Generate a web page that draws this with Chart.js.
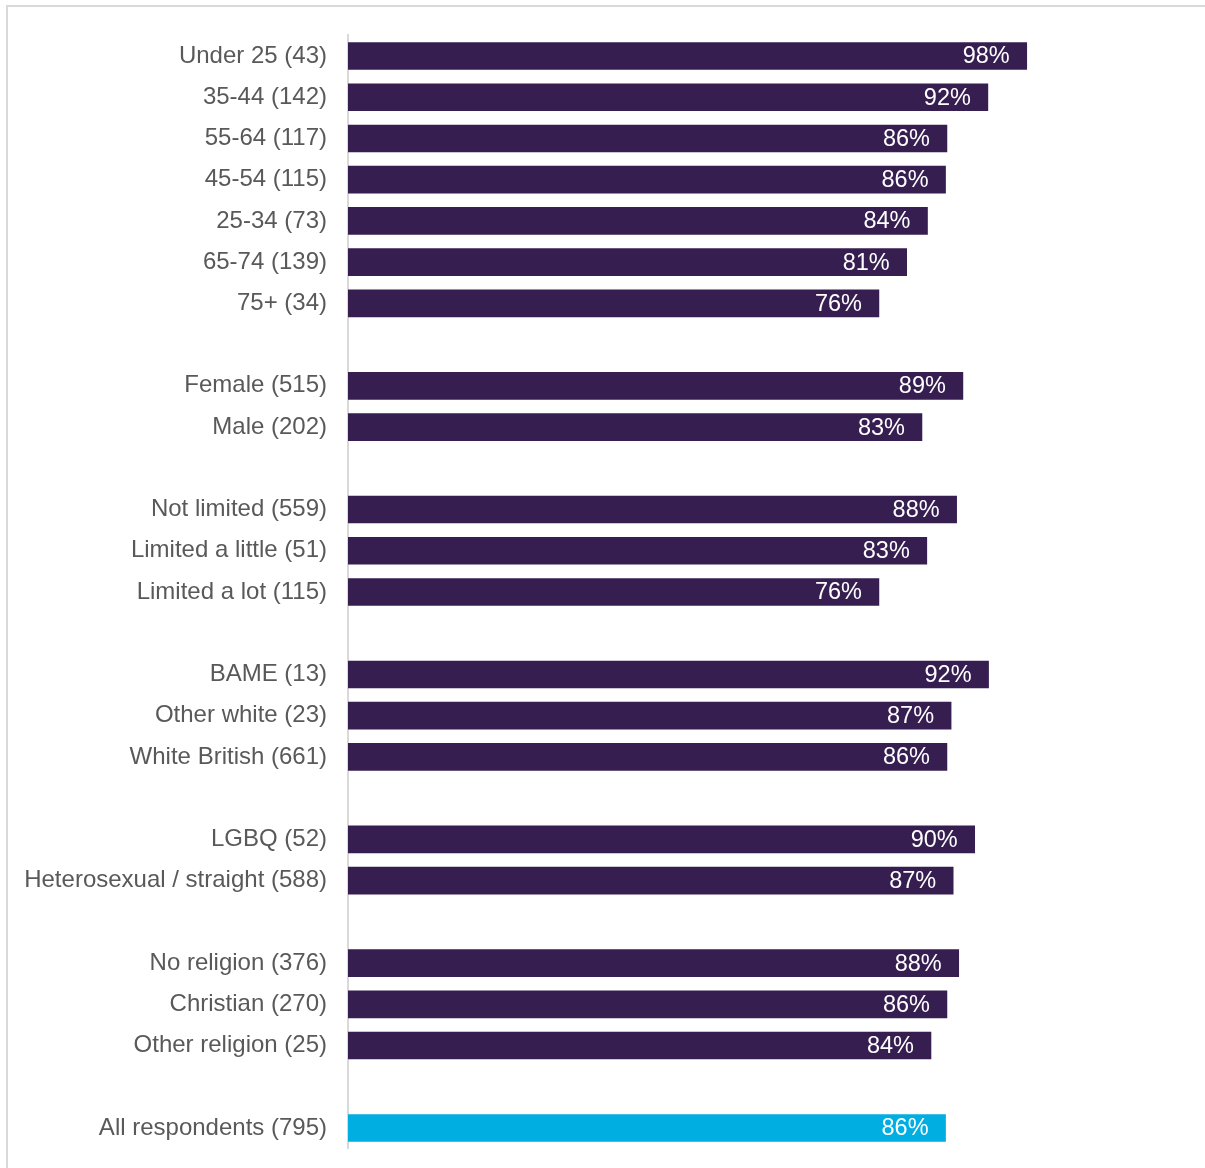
<!DOCTYPE html>
<html>
<head>
<meta charset="utf-8">
<script src="https://cdn.jsdelivr.net/npm/chart.js@4"></script>
<style>
    html, body { margin: 0; padding: 0; background: #fff; overflow: hidden; }
    #wrap { position: relative; width: 1205px; height: 1168px; }
    #frame { position: absolute; left: 6px; top: 5px; width: 1400px; height: 1400px; border-top: 2px solid #d9d9d9; border-left: 2px solid #d9d9d9; }
    #myChart { position: absolute; left: 0; top: 0; }
</style>
</head>
<body>
<div id="wrap">
    <div id="frame"></div>
    <canvas id="myChart" width="1205" height="1168"></canvas>
</div>
<script>
// categories, empty strings are the gaps between groups
var categories = [
    "Under 25 (43)", "35-44 (142)", "55-64 (117)", "45-54 (115)", "25-34 (73)", "65-74 (139)", "75+ (34)",
    "",
    "Female (515)", "Male (202)",
    "",
    "Not limited (559)", "Limited a little (51)", "Limited a lot (115)",
    "",
    "BAME (13)", "Other white (23)", "White British (661)",
    "",
    "LGBQ (52)", "Heterosexual / straight (588)",
    "",
    "No religion (376)", "Christian (270)", "Other religion (25)",
    "",
    "All respondents (795)"
];

// percentages
var values = [
    97.8, 92.2, 86.3, 86.1, 83.5, 80.5, 76.5,
    null,
    88.6, 82.7,
    null,
    87.7, 83.4, 76.5,
    null,
    92.3, 86.9, 86.3,
    null,
    90.3, 87.2,
    null,
    88.0, 86.3, 84.0,
    null,
    86.1
];

// printed labels
var valueLabels = [
    "98%", "92%", "86%", "86%", "84%", "81%", "76%",
    "",
    "89%", "83%",
    "",
    "88%", "83%", "76%",
    "",
    "92%", "87%", "86%",
    "",
    "90%", "87%",
    "",
    "88%", "86%", "84%",
    "",
    "86%"
];

var purple = '#371e51';
var blue = '#00aee1';
var barColors = categories.map(c => c.indexOf("All respondents") === 0 ? blue : purple);

var FONT = "'Liberation Sans', Arial, sans-serif";

// draw the % text inside the end of each bar
var valueLabelPlugin = {
    id: 'valueLabels',
    afterDatasetsDraw: function (chart) {
        var ctx = chart.ctx;
        var meta = chart.getDatasetMeta(0);
        ctx.save();
        ctx.font = "23.5px " + FONT;
        ctx.fillStyle = '#ffffff';
        ctx.textAlign = 'right';
        ctx.textBaseline = 'middle';
        meta.data.forEach((bar, i) => {
            if (values[i] == null) return;
            ctx.fillText(valueLabels[i], bar.x - 17, bar.y + 1);
        });
        ctx.restore();
    }
};

var ctx = document.getElementById('myChart');
var chart = new Chart(ctx, {
    type: 'bar',
    data: {
        labels: categories,
        datasets: [{
            data: values,
            backgroundColor: barColors,
            borderWidth: 0,
            barThickness: 27
        }]
    },
    options: {
        indexAxis: 'y',
        responsive: false,
        animation: false,
        layout: {
            padding: { left: 0, right: 163, top: 35.4, bottom: 19.4 }
        },
        plugins: {
            legend: { display: false },
            tooltip: { enabled: false }
        },
        scales: {
            x: {
                display: false,
                min: 0,
                max: 100
            },
            y: {
                grid: { display: false, drawTicks: false },
                border: { display: true, color: '#d9d9d9', width: 2 },
                ticks: {
                    color: '#595959',
                    padding: 21,
                    font: { family: FONT, size: 24 }
                },
                afterFit: function (scale) {
                    scale.width = 348;
                    // let the layout padding alone decide top/bottom
                    scale.paddingTop = 0;
                    scale.paddingBottom = 0;
                }
            }
        }
    },
    plugins: [valueLabelPlugin]
});
</script>
</body>
</html>
